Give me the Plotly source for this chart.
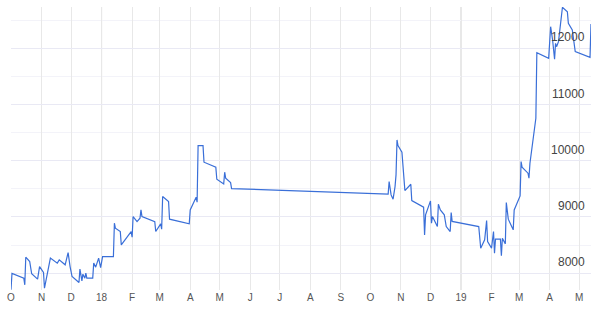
import plotly.graph_objects as go

dates = [
    "2017-10-01", "2017-10-02", "2017-10-14", "2017-10-15", "2017-10-16", "2017-10-20",
    "2017-10-22", "2017-10-28", "2017-10-30", "2017-11-03", "2017-11-04", "2017-11-10",
    "2017-11-17", "2017-11-19", "2017-11-25", "2017-11-28", "2017-11-30", "2017-12-02",
    "2017-12-09", "2017-12-10", "2017-12-12", "2017-12-13", "2017-12-15", "2017-12-16",
    "2017-12-17", "2017-12-23", "2017-12-24", "2017-12-26", "2017-12-29", "2017-12-31",
    "2018-01-02", "2018-01-13", "2018-01-14", "2018-01-15", "2018-01-20", "2018-01-21",
    "2018-01-31", "2018-02-01", "2018-02-02", "2018-02-06", "2018-02-09", "2018-02-10",
    "2018-02-11", "2018-02-24", "2018-02-25", "2018-03-02", "2018-03-03", "2018-03-04",
    "2018-03-10", "2018-03-11", "2018-03-31", "2018-04-01", "2018-04-07", "2018-04-08",
    "2018-04-09", "2018-04-14", "2018-04-15", "2018-04-27", "2018-04-28", "2018-05-05",
    "2018-05-06", "2018-05-07", "2018-05-12", "2018-05-13",
    "2018-10-19", "2018-10-20", "2018-10-22", "2018-10-24", "2018-10-26", "2018-10-27",
    "2018-10-28", "2018-10-29", "2018-11-02", "2018-11-03", "2018-11-05", "2018-11-11",
    "2018-11-12", "2018-11-24", "2018-11-25", "2018-11-26", "2018-12-01", "2018-12-02",
    "2018-12-03", "2018-12-08", "2018-12-09", "2018-12-11", "2018-12-15", "2018-12-17",
    "2018-12-21", "2018-12-22", "2018-12-23",
    "2019-01-19", "2019-01-21", "2019-01-25", "2019-01-27", "2019-01-28", "2019-02-01",
    "2019-02-03", "2019-02-04", "2019-02-05", "2019-02-10", "2019-02-11", "2019-02-12",
    "2019-02-15", "2019-02-16", "2019-02-18", "2019-02-23", "2019-02-24", "2019-03-02",
    "2019-03-03", "2019-03-04", "2019-03-10", "2019-03-11", "2019-03-12", "2019-03-17",
    "2019-03-18", "2019-03-19", "2019-03-31", "2019-04-02", "2019-04-04", "2019-04-06",
    "2019-04-07", "2019-04-08", "2019-04-10", "2019-04-14", "2019-04-19", "2019-04-20",
    "2019-04-24", "2019-04-27", "2019-05-12", "2019-05-13",
]

values = [
    7703, 7995, 7911, 7792, 8284, 8206,
    7988, 7893, 8117, 8011, 7733, 8267,
    8178, 8236, 8148, 8366, 8117, 7940,
    7833, 8071, 7863, 7982, 7911, 8000,
    7911, 7911, 8178, 8107, 8267, 8100,
    8295, 8295, 8889, 8800, 8740, 8503,
    8740, 8640, 9006, 8917, 8978, 9125,
    9006, 8917, 8740, 8877, 8782, 9362,
    9273, 8960, 8877, 9125, 9351, 9262,
    10269, 10269, 9974, 9885, 9671, 9588,
    9796, 9689, 9611, 9504,
    9405, 9629, 9392, 9316, 9540, 9748,
    10370, 10269, 10151, 9956, 9469, 9582,
    9291, 9173, 8681, 9037, 9285, 8889,
    9006, 8829, 9227, 9125, 9037, 8829,
    8740, 9077, 8920,
    8829, 8444, 8592, 8935, 8562, 8444,
    8740, 8356, 8605, 8605, 8308, 8622,
    8521, 9255, 8960, 8770, 9125, 9374,
    9984, 9885, 9778, 9689, 9956, 10667,
    10756, 11922, 11823, 12385, 12148, 11805,
    12089, 12029, 12118, 12730, 12651, 12445,
    12326, 11940, 11840, 12433,
]

month_ticks = [
    "2017-10-01", "2017-11-01", "2017-12-01", "2018-01-01", "2018-02-01", "2018-03-01",
    "2018-04-01", "2018-05-01", "2018-06-01", "2018-07-01", "2018-08-01", "2018-09-01",
    "2018-10-01", "2018-11-01", "2018-12-01", "2019-01-01", "2019-02-01", "2019-03-01",
    "2019-04-01", "2019-05-01",
]
month_labels = ["O", "N", "D", "18", "F", "M", "A", "M", "J", "J", "A", "S",
                "O", "N", "D", "19", "F", "M", "A", "M"]
year_starts = ["2018-01-01", "2019-01-01"]

y_ticks = [8000, 9000, 10000, 11000, 12000]

fig = go.Figure()
fig.add_trace(go.Scatter(
    x=dates, y=values, mode="lines",
    line=dict(color="#3a6fd8", width=1.2),
    hoverinfo="x+y", showlegend=False,
))

for ys in year_starts:
    fig.add_shape(type="line", xref="x", yref="paper", x0=ys, x1=ys, y0=0, y1=1,
                  line=dict(color="#cfcfcf", width=1), layer="below")

for yv in y_ticks:
    fig.add_annotation(
        x=1, xref="paper", y=yv, yref="y",
        text=str(yv), showarrow=False,
        xanchor="right", yanchor="middle", xshift=-4, yshift=11,
        font=dict(size=12, color="#444444", family="Liberation Sans, Arial, sans-serif"),
    )

fig.update_layout(
    width=598, height=311,
    margin=dict(l=7, r=7, t=7, b=21),
    paper_bgcolor="white", plot_bgcolor="white",
    font=dict(family="Liberation Sans, Arial, sans-serif", color="#555555"),
    xaxis=dict(
        type="date",
        range=[dates[0], dates[-1]],
        tickvals=month_ticks, ticktext=month_labels,
        showgrid=True, gridcolor="#e8e8e8", gridwidth=1,
        ticks="", tickfont=dict(size=10, color="#555555"),
        showline=False, zeroline=False,
    ),
    yaxis=dict(
        range=[7700, 12735],
        side="right",
        tickvals=y_ticks,
        showticklabels=False,
        showgrid=True, gridcolor="#e9e9f4", gridwidth=1,
        minor=dict(dtick=500, tick0=500, showgrid=True, gridcolor="#f3f3f9", gridwidth=1),
        ticks="", showline=False, zeroline=False,
    ),
)

fig.write_html("out.html")
